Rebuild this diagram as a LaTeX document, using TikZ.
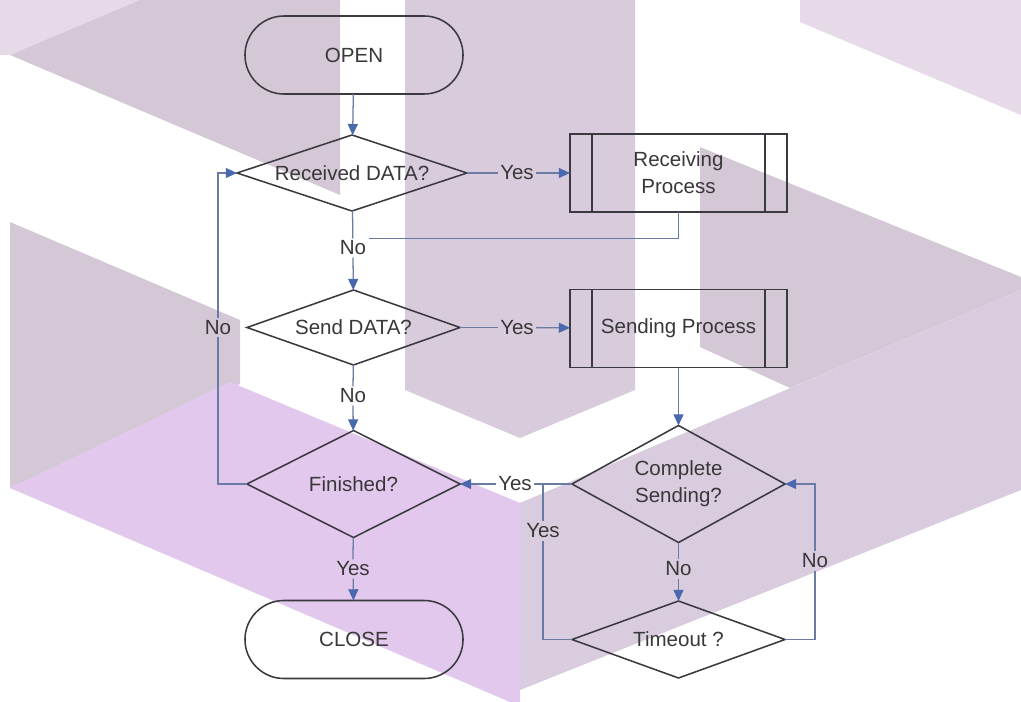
\documentclass[tikz,border=0pt]{standalone}
\usepackage{fontspec}
\setmainfont{Liberation Sans}
\usepackage{tikz}
\usepackage{xcolor}
\usetikzlibrary{shapes.geometric,shapes.misc,arrows.meta}
\definecolor{wmlight}{HTML}{E6D9E8}
\definecolor{wmgray}{HTML}{D4C8D6}
\definecolor{wmcolumn}{HTML}{D8CBDB}
\definecolor{wmband}{HTML}{D9CCDE}
\definecolor{wmpink}{HTML}{E2C8EC}
\definecolor{shapegray}{HTML}{3A3A40}
\definecolor{textgray}{HTML}{383838}
\definecolor{lineblue}{HTML}{6A7BA4}
\definecolor{tipblue}{HTML}{4A68AE}
\tikzset{
    term-box/.style = {draw=shapegray, rounded rectangle, line width=1.1pt, minimum width=5.45cm, minimum height=1.95cm, inner sep=0pt, outer sep=0pt, text=textgray},
    cond-box/.style = {draw=shapegray, diamond, aspect=3, line width=1.1pt, minimum width=5.325cm, inner sep=0pt, outer sep=0pt, align=center, text=textgray},
    proc-box/.style = {draw=shapegray, rectangle, line width=1.1pt, minimum width=5.425cm, minimum height=1.95cm, inner sep=0pt, outer sep=0pt, align=center, text=textgray,
        path picture={\draw[shapegray, line width=1.1pt]
            ([xshift=0.55cm]path picture bounding box.north west) -- ([xshift=0.55cm]path picture bounding box.south west)
            ([xshift=-0.55cm]path picture bounding box.north east) -- ([xshift=-0.55cm]path picture bounding box.south east);}},
    flow-label/.style = {text=textgray, inner sep=1.5pt},
    flow-line/.style = {draw=lineblue, line width=0.9pt},
    flow-arrow/.style = {flow-line, -{Triangle[length=2.8mm, width=2.5mm, color=tipblue]}},
}

\begin{document}
\begin{tikzpicture}[x=0.025cm, y=-0.025cm, font=\fontsize{14.6}{19}\selectfont]
\useasboundingbox (0,0) rectangle (1021,702);
\fill[white] (0,0) rectangle (1021,702);
\fill[wmlight] (0,0) -- (140,0) -- (10,55) -- (0,55) -- cycle;
\fill[wmgray] (140,0) -- (340,0) -- (340,195) -- (10,55) -- cycle;
\fill[wmcolumn] (405,0) -- (635,0) -- (635,390) -- (520,438) -- (405,390) -- cycle;
\fill[wmlight] (800,0) -- (1021,0) -- (1021,115) -- (800,22) -- cycle;
\fill[wmgray] (700,147) -- (1021,277) -- (1021,290) -- (790,388) -- (700,347) -- cycle;
\fill[wmband] (520,503) -- (1021,290) -- (1021,490) -- (520,690) -- cycle;
\fill[wmgray] (10,222) -- (240,320) -- (240,384) -- (10,488) -- cycle;
\fill[wmpink] (10,488) -- (230,382) -- (520,503) -- (520,702) -- (510,702) -- cycle;

\node[term-box] (open) at (354,55) {OPEN};
\node[cond-box, minimum width=5.75cm, minimum height=1.9cm] (recv) at (352,173) {Received DATA?};
\node[proc-box] (recvproc) at (678.5,173) {Receiving\\Process};
\node[cond-box, minimum height=1.875cm] (send) at (353.5,327.5) {Send DATA?};
\node[proc-box] (sendproc) at (678.5,328.5) {Sending Process};
\node[cond-box, minimum height=2.675cm] (fin) at (353.5,484) {Finished?};
\node[term-box] (close) at (354,639.5) {CLOSE};
\node[cond-box, aspect=1.8, minimum height=2.925cm] (compl) at (678.5,484) {Complete\\Sending?};
\node[cond-box, minimum height=1.925cm] (tmo) at (678.5,639.5) {Timeout ?};

\node[flow-label] (recv-yes) at (517,173) {Yes};
\node[flow-label] (recv-no) at (353,248) {No};
\node[flow-label] (send-yes) at (517,327.5) {Yes};
\node[flow-label] (send-no) at (353,396) {No};
\node[flow-label] (fin-no) at (218,327.5) {No};
\node[flow-label] (fin-yes) at (353,569) {Yes};
\node[flow-label] (compl-yes) at (515,484) {Yes};
\node[flow-label] (compl-no) at (678.5,569) {No};
\node[flow-label] (tmo-yes) at (543,531) {Yes};
\node[flow-label] (tmo-no) at (815,561) {No};
\coordinate (yes-join) at (tmo-yes |- compl);

\draw[flow-arrow] (open) -- (recv);
\draw[flow-line] (recv) -- (recv-yes);
\draw[flow-arrow] (recv-yes) -- (recvproc);
\draw[flow-line] (recv) -- (recv-no);
\draw[flow-arrow] (recv-no) -- (send);
\draw[flow-line] (recvproc) |- (recv-no.north east);
\draw[flow-line] (send) -- (send-yes);
\draw[flow-arrow] (send-yes) -- (sendproc);
\draw[flow-line] (send) -- (send-no);
\draw[flow-arrow] (send-no) -- (fin);
\draw[flow-line] (fin) -| (fin-no);
\draw[flow-arrow] (fin-no) |- (recv);
\draw[flow-line] (fin) -- (fin-yes);
\draw[flow-arrow] (fin-yes) -- (close);
\draw[flow-arrow] (sendproc) -- (compl);
\draw[flow-line] (compl) -- (compl-yes);
\draw[flow-arrow] (compl-yes) -- (fin);
\draw[flow-line] (compl) -- (compl-no);
\draw[flow-arrow] (compl-no) -- (tmo);
\draw[flow-line] (tmo) -| (tmo-no);
\draw[flow-arrow] (tmo-no) |- (compl);
\draw[flow-line] (tmo) -| (tmo-yes);
\draw[flow-line] (tmo-yes) -- (yes-join);
\end{tikzpicture}
\end{document}
